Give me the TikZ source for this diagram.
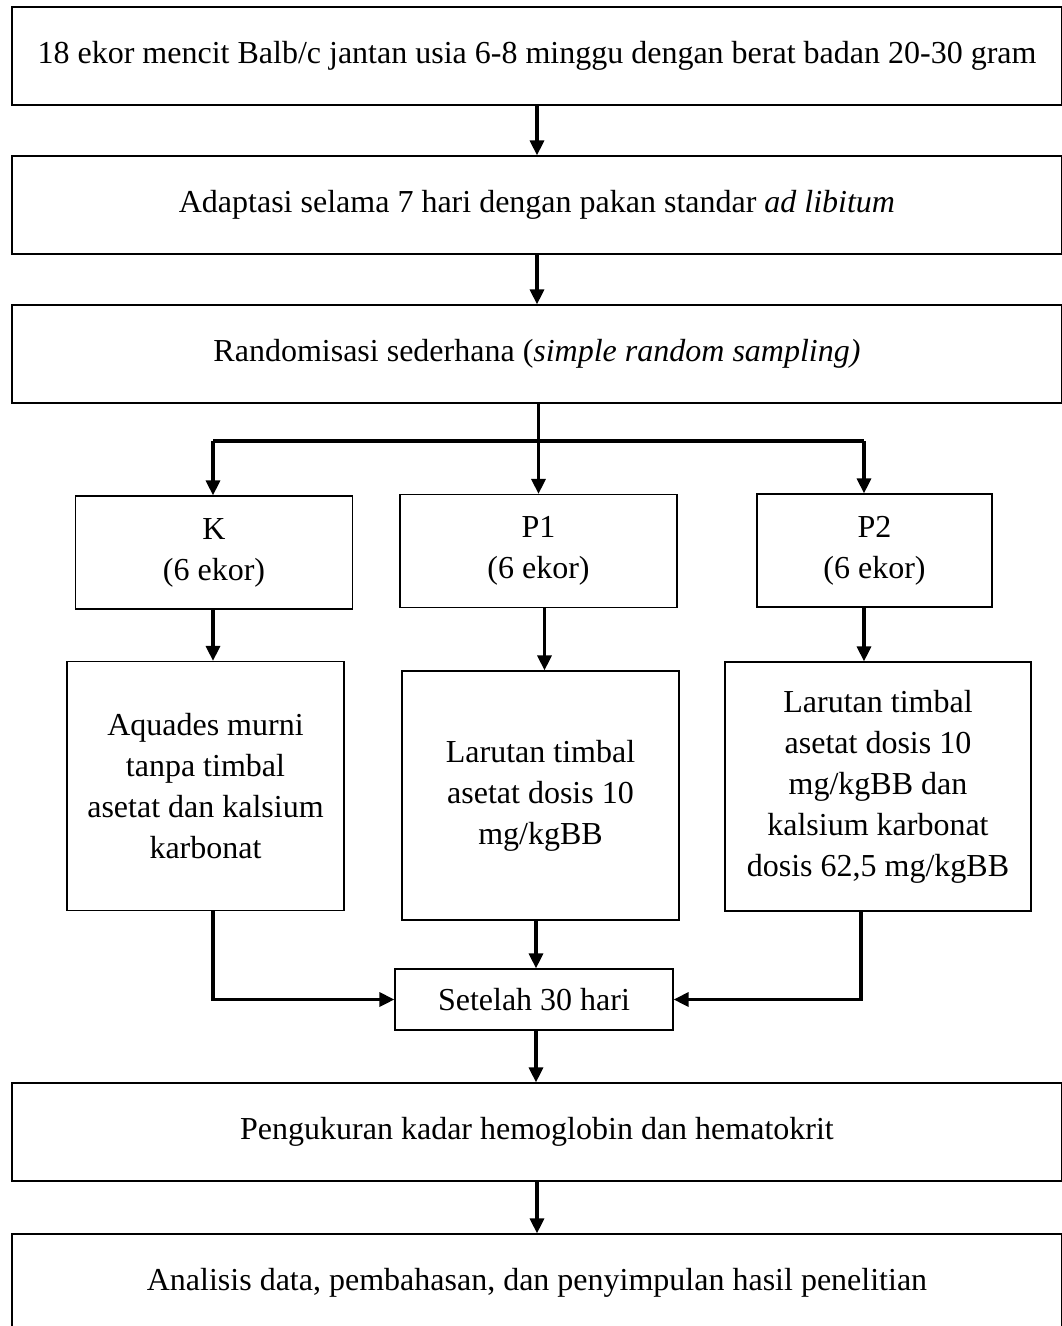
\documentclass[tikz,border=0pt]{standalone}
\usepackage{fontspec}
\setmainfont{Liberation Serif}
\usetikzlibrary{arrows.meta}
\newcommand{\flowFont}{\fontsize{32}{41}\selectfont}

\begin{document}
\begin{tikzpicture}[x=1pt,y=-1pt,
  box/.style={draw, line width=1.2pt, inner sep=0pt, align=center, font=\flowFont},
  wide/.style={box, minimum width=1050pt, minimum height=98pt},
  group/.style={box, minimum width=277pt, minimum height=113pt},
  dose/.style={box, minimum width=277pt, minimum height=249pt},
  link/.style={line width=3.2pt},
  arr/.style={link, -{Triangle[length=15pt,width=14pt]}}]
\useasboundingbox (0,0) rectangle (1061,1326);
\node[wide] (b1) at (537,56) {18 ekor mencit Balb/c jantan usia 6-8 minggu dengan berat badan 20-30 gram};
\node[wide] (b2) at (537,205) {Adaptasi selama 7 hari dengan pakan standar \textit{ad libitum}};
\node[wide] (b3) at (537,354) {Randomisasi sederhana (\textit{simple random sampling)}};
\node[group] (k) at (214,552.5) {K\\(6 ekor)};
\node[group] (p1) at (538.5,551) {P1\\(6 ekor)};
\node[group, minimum width=235pt] (p2) at (874.5,550.5) {P2\\(6 ekor)};
\node[dose] (kd) at (205.5,786) {Aquades murni\\tanpa timbal\\asetat dan kalsium\\karbonat};
\node[dose] (p1d) at (540.5,795.5) {Larutan timbal\\asetat dosis 10\\mg/kgBB};
\node[dose, minimum width=306pt] (p2d) at (878,786.5) {Larutan timbal\\asetat dosis 10\\mg/kgBB dan\\kalsium karbonat\\dosis 62,5 mg/kgBB};
\node[box, minimum width=278pt, minimum height=61pt] (st) at (534,999.5) {Setelah 30 hari};
\node[wide] (b4) at (537,1132) {Pengukuran kadar hemoglobin dan hematokrit};
\node[wide] (b5) at (537,1283) {Analisis data, pembahasan, dan penyimpulan hasil penelitian};
\coordinate (jl) at (213,441);
\coordinate (jr) at (864,441);
\draw[arr] (b1.south) -- (b2.north);
\draw[arr] (b2.south) -- (b3.north);
\draw[arr] (b3.south -| p1) -- (p1.north);
\draw[link] (jl) -- (jr);
\draw[arr] (jl) -- (jl |- k.north);
\draw[arr] (jr) -- (jr |- p2.north);
\draw[arr] (jl |- k.south) -- (jl |- kd.north);
\draw[arr] ([xshift=6pt]p1.south) -- ([xshift=6pt]p1.south |- p1d.north);
\draw[arr] (jr |- p2.south) -- (jr |- p2d.north);
\draw[arr] (jl |- kd.south) |- (st.west);
\draw[arr] ([xshift=2pt]p1d.south -| st) -- ([xshift=2pt]st.north);
\draw[arr] ([xshift=-3pt]jr |- p2d.south) |- (st.east);
\draw[arr] ([xshift=2pt]st.south) -- ([xshift=2pt]st.south |- b4.north);
\draw[arr] (b4.south) -- (b5.north);
\end{tikzpicture}
\end{document}
